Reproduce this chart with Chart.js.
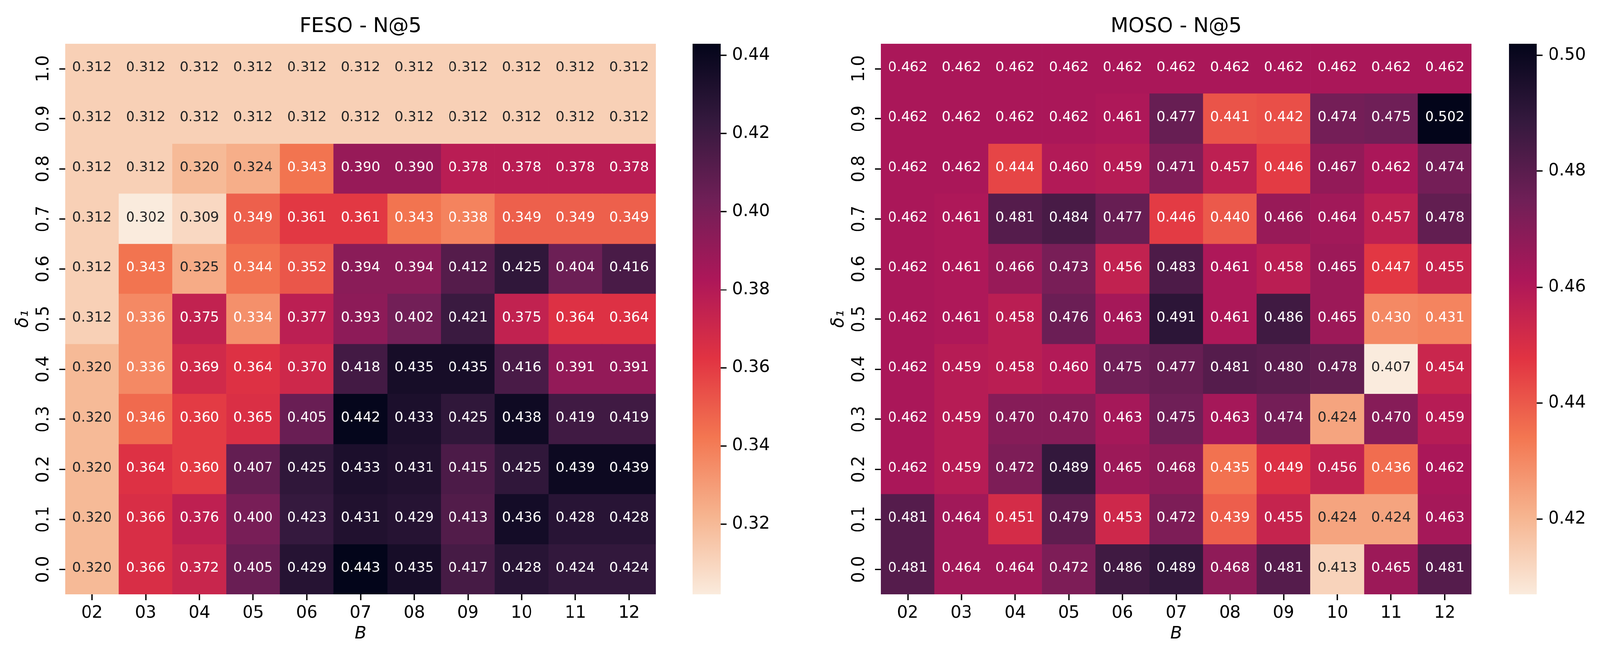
<!DOCTYPE html>
<html>
<head>
<meta charset="utf-8">
<script src="https://cdn.jsdelivr.net/npm/chart.js@4.4.0/dist/chart.umd.min.js"></script>
<style>
  html, body { margin: 0; padding: 0; background: #fff; overflow: hidden; }
  #page { width: 4176px; height: 1707px; position: relative; transform-origin: 0 0; }
  canvas { position: absolute; top: 0; }
</style>
</head>
<body>
<div id="page">
<canvas id="fesoMap" width="1712" height="1707" style="left:0px"></canvas>
<canvas id="fesoBar" width="260" height="1707" style="left:1808px"></canvas>
<canvas id="mosoMap" width="1712" height="1707" style="left:2129px"></canvas>
<canvas id="mosoBar" width="238" height="1707" style="left:3938px"></canvas>
</div>
<script>
// columns are B, rows are delta_1 (first row is the top one, 1.0)
var bLabels = ['02', '03', '04', '05', '06', '07', '08', '09', '10', '11', '12'];
var deltaLabels = ['1.0', '0.9', '0.8', '0.7', '0.6', '0.5', '0.4', '0.3', '0.2', '0.1', '0.0'];

var fesoN5 = [
  [0.312, 0.312, 0.312, 0.312, 0.312, 0.312, 0.312, 0.312, 0.312, 0.312, 0.312],
  [0.312, 0.312, 0.312, 0.312, 0.312, 0.312, 0.312, 0.312, 0.312, 0.312, 0.312],
  [0.312, 0.312, 0.320, 0.324, 0.343, 0.390, 0.390, 0.378, 0.378, 0.378, 0.378],
  [0.312, 0.302, 0.309, 0.349, 0.361, 0.361, 0.343, 0.338, 0.349, 0.349, 0.349],
  [0.312, 0.343, 0.325, 0.344, 0.352, 0.394, 0.394, 0.412, 0.425, 0.404, 0.416],
  [0.312, 0.336, 0.375, 0.334, 0.377, 0.393, 0.402, 0.421, 0.375, 0.364, 0.364],
  [0.320, 0.336, 0.369, 0.364, 0.370, 0.418, 0.435, 0.435, 0.416, 0.391, 0.391],
  [0.320, 0.346, 0.360, 0.365, 0.405, 0.442, 0.433, 0.425, 0.438, 0.419, 0.419],
  [0.320, 0.364, 0.360, 0.407, 0.425, 0.433, 0.431, 0.415, 0.425, 0.439, 0.439],
  [0.320, 0.366, 0.376, 0.400, 0.423, 0.431, 0.429, 0.413, 0.436, 0.428, 0.428],
  [0.320, 0.366, 0.372, 0.405, 0.429, 0.443, 0.435, 0.417, 0.428, 0.424, 0.424]
];

var mosoN5 = [
  [0.462, 0.462, 0.462, 0.462, 0.462, 0.462, 0.462, 0.462, 0.462, 0.462, 0.462],
  [0.462, 0.462, 0.462, 0.462, 0.461, 0.477, 0.441, 0.442, 0.474, 0.475, 0.502],
  [0.462, 0.462, 0.444, 0.460, 0.459, 0.471, 0.457, 0.446, 0.467, 0.462, 0.474],
  [0.462, 0.461, 0.481, 0.484, 0.477, 0.446, 0.440, 0.466, 0.464, 0.457, 0.478],
  [0.462, 0.461, 0.466, 0.473, 0.456, 0.483, 0.461, 0.458, 0.465, 0.447, 0.455],
  [0.462, 0.461, 0.458, 0.476, 0.463, 0.491, 0.461, 0.486, 0.465, 0.430, 0.431],
  [0.462, 0.459, 0.458, 0.460, 0.475, 0.477, 0.481, 0.480, 0.478, 0.407, 0.454],
  [0.462, 0.459, 0.470, 0.470, 0.463, 0.475, 0.463, 0.474, 0.424, 0.470, 0.459],
  [0.462, 0.459, 0.472, 0.489, 0.465, 0.468, 0.435, 0.449, 0.456, 0.436, 0.462],
  [0.481, 0.464, 0.451, 0.479, 0.453, 0.472, 0.439, 0.455, 0.424, 0.424, 0.463],
  [0.481, 0.464, 0.464, 0.472, 0.486, 0.489, 0.468, 0.481, 0.413, 0.465, 0.481]
];

var fesoTicks = [0.32, 0.34, 0.36, 0.38, 0.40, 0.42, 0.44];
var mosoTicks = [0.42, 0.44, 0.46, 0.48, 0.50];

// seaborn "rocket", dark end first
var rocket = [[3, 5, 26], [53, 25, 62], [112, 31, 87], [173, 23, 89],
              [225, 51, 66], [243, 118, 81], [246, 180, 143], [250, 235, 221]];

// the window may be a bit narrower than the 4176 px picture: fit the page into it
var fit = Math.min(window.innerWidth / 4176, window.innerHeight / 1707);
document.getElementById('page').style.transform = 'scale(' + fit + ')';

Chart.defaults.font.family = '"DejaVu Sans", sans-serif';
Chart.defaults.color = '#000';

function rocketAt(pos) {
  var n = rocket.length - 1;
  var p = Math.max(0, Math.min(1, pos)) * n;
  var i = Math.min(n - 1, Math.floor(p));
  var f = p - i;
  var a = rocket[i], b = rocket[i + 1];
  return [0, 1, 2].map(function (k) { return Math.round(a[k] + (b[k] - a[k]) * f); });
}
function css(rgb) { return 'rgb(' + rgb.join(',') + ')'; }
function luminance(rgb) {
  var c = rgb.map(function (x) {
    x = x / 255;
    return x <= 0.03928 ? x / 12.92 : Math.pow((x + 0.055) / 1.055, 2.4);
  });
  return 0.2126 * c[0] + 0.7152 * c[1] + 0.0722 * c[2];
}
function flat(rows) { return [].concat.apply([], rows); }

// writes the value in each cell
var cellText = {
  id: 'cellText',
  afterDatasetsDraw: function (chart) {
    var ctx = chart.ctx;
    ctx.save();
    ctx.font = '36px "DejaVu Sans"';
    ctx.textAlign = 'center';
    ctx.textBaseline = 'middle';
    chart.data.datasets.forEach(function (ds, i) {
      chart.getDatasetMeta(i).data.forEach(function (bar, j) {
        ctx.fillStyle = luminance(ds.rgb[j]) > 0.408 ? '#262626' : '#ffffff';
        ctx.fillText(ds.values[j].toFixed(3), bar.x, (bar.y + bar.base) / 2 - 3);
      });
    });
    ctx.restore();
  }
};

function heatmap(id, title, rows) {
  var all = flat(rows);
  var vmin = Math.min.apply(null, all), vmax = Math.max.apply(null, all);
  var rowsUp = rows.slice().reverse();
  var labelsUp = deltaLabels.slice().reverse();
  var datasets = rowsUp.map(function (row) {
    var rgb = row.map(function (v) { return rocketAt(1 - (v - vmin) / (vmax - vmin)); });
    return {
      data: row.map(function () { return 1; }),
      values: row,
      rgb: rgb,
      backgroundColor: rgb.map(css),
      borderWidth: 0,
      barPercentage: 1,
      categoryPercentage: 1
    };
  });
  new Chart(document.getElementById(id), {
    type: 'bar',
    data: { labels: bLabels, datasets: datasets },
    options: {
      responsive: false,
      animation: false,
      layout: { padding: 0 },
      plugins: {
        legend: { display: false },
        tooltip: { enabled: false },
        title: {
          display: true, text: title, fullSize: false, color: '#000',
          font: { size: 53, weight: 'normal' },
          padding: { top: 38, bottom: 12.4 }
        }
      },
      scales: {
        x: {
          stacked: true,
          afterFit: function (s) { s.height = 156; },
          ticks: { autoSkip: false, maxRotation: 0, padding: 8, font: { size: 44 }, color: '#000' },
          grid: { offset: false, drawOnChartArea: false, tickLength: 15, tickWidth: 3.5, tickColor: '#000' },
          border: { display: false },
          title: { display: true, text: 'B', color: '#000', font: { size: 44, style: 'italic' }, padding: { top: 0, bottom: 26 } }
        },
        y: {
          stacked: true, min: 0, max: deltaLabels.length,
          afterBuildTicks: function (s) { s.ticks = labelsUp.map(function (l, i) { return { value: i + 0.5 }; }); },
          afterFit: function (s) { s.width = 170; },
          ticks: {
            autoSkip: false, minRotation: 90, maxRotation: 90, crossAlign: 'center', padding: 5,
            font: { size: 44 }, color: '#000',
            callback: function (v, i) { return labelsUp[i]; }
          },
          grid: { drawOnChartArea: false, tickLength: 15, tickWidth: 3.5, tickColor: '#000' },
          border: { display: false },
          title: { display: true, text: 'δ₁', color: '#000', font: { size: 44, style: 'italic' }, padding: { top: 34, bottom: 0 } }
        }
      }
    },
    plugins: [cellText]
  });
}

function colorbar(id, rows, ticks) {
  var all = flat(rows);
  var vmin = Math.min.apply(null, all), vmax = Math.max.apply(null, all);
  var el = document.getElementById(id);
  new Chart(el, {
    type: 'bar',
    data: {
      labels: [''],
      datasets: [{
        data: [[vmin, vmax]],
        borderWidth: 0, barPercentage: 1, categoryPercentage: 1,
        backgroundColor: function (c) {
          var area = c.chart.chartArea;
          if (!area) return null;
          var g = c.chart.ctx.createLinearGradient(0, area.bottom, 0, area.top);
          for (var k = 0; k < rocket.length; k++) {
            g.addColorStop(1 - k / (rocket.length - 1), css(rocket[k]));
          }
          return g;
        }
      }]
    },
    options: {
      responsive: false,
      animation: false,
      layout: { padding: { top: 114, bottom: 156, left: 0, right: 0 } },
      plugins: { legend: { display: false }, tooltip: { enabled: false } },
      scales: {
        x: { display: false },
        y: {
          position: 'right', min: vmin, max: vmax,
          afterBuildTicks: function (s) { s.ticks = ticks.map(function (v) { return { value: v }; }); },
          afterFit: function (s) { s.width = el.width - 73; },
          ticks: { autoSkip: false, padding: 15, font: { size: 44 }, color: '#000',
                   callback: function (v) { return v.toFixed(2); } },
          grid: { drawOnChartArea: false, tickLength: 15, tickWidth: 3.5, tickColor: '#000' },
          border: { display: false }
        }
      }
    }
  });
}

heatmap('fesoMap', 'FESO - N@5', fesoN5);
colorbar('fesoBar', fesoN5, fesoTicks);
heatmap('mosoMap', 'MOSO - N@5', mosoN5);
colorbar('mosoBar', mosoN5, mosoTicks);
</script>
</body>
</html>
